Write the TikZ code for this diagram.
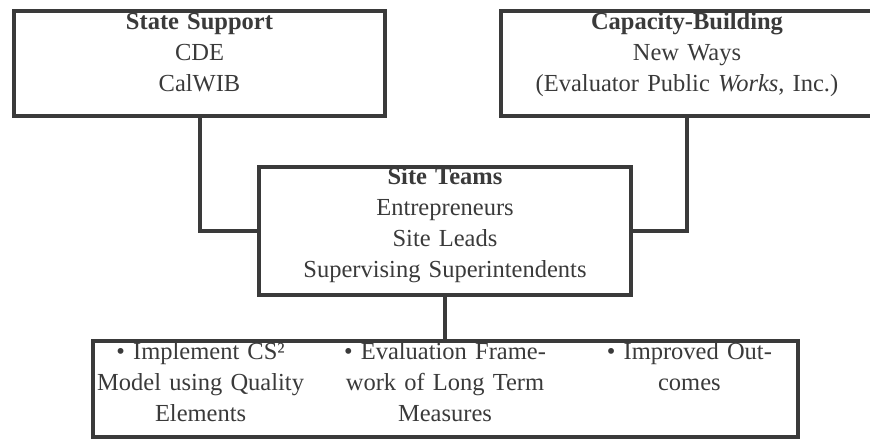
\documentclass[tikz,border=0pt]{standalone}
\usepackage{fontspec}
\setmainfont{Liberation Serif}
\usetikzlibrary{positioning}
\definecolor{ink}{HTML}{3A3A3A}

\begin{document}
\begin{tikzpicture}[x=1pt,y=-1pt,
    panel/.style={draw=ink,line width=4pt,minimum width=372pt,inner sep=0pt},
    boxtext/.style={text=ink,align=center,inner sep=0pt,text width=372pt,
        anchor=base,font=\fontsize{24.5}{31}\selectfont},
    cell/.style={boxtext,text width=244pt},
    link/.style={draw=ink,line width=4pt}]
    \useasboundingbox (0,0) rectangle (870,439);
    % Boxes (pixel grid, y pointing down)
    \node[panel,minimum width=371pt,minimum height=104.5pt] (state) at (199.5,63.25) {};
    \node[panel,minimum height=104.5pt] (capacity) at (687,63.25) {};
    \node[panel,minimum height=128.5pt] (site) at (445,231) {};
    \node[panel,minimum width=705pt,minimum height=96.5pt] (goals) at (445,388.75) {};
    % Box texts
    \node[boxtext] (statetext) at ([yshift=-20.5pt]state.north)
        {\textbf{State Support}\\CDE\\CalWIB};
    \node[boxtext] (capacitytext) at ([yshift=-20.5pt]capacity.north)
        {\textbf{Capacity-Building}\\New Ways\\(Evaluator Public \textit{Works}, Inc.)};
    \node[boxtext] (sitetext) at ([yshift=-19.5pt]site.north)
        {\textbf{Site Teams}\\Entrepreneurs\\Site Leads\\Supervising Superintendents};
    % Three goal columns
    \node[cell] (goal2) at ([yshift=-21pt]goals.north)
        {• Evaluation Frame-\\work of Long Term\\Measures};
    \node[cell,base left=0pt of goal2] (goal1)
        {• Implement CS²\\Model using Quality\\Elements};
    \node[cell,base right=0pt of goal2] (goal3)
        {• Improved Out-\\comes};
    % Connectors
    \draw[link] (state.south) |- (site.west);
    \draw[link] (capacity.south) |- (site.east);
    \draw[link] (site.south) -- (goals.north);
\end{tikzpicture}
\end{document}
